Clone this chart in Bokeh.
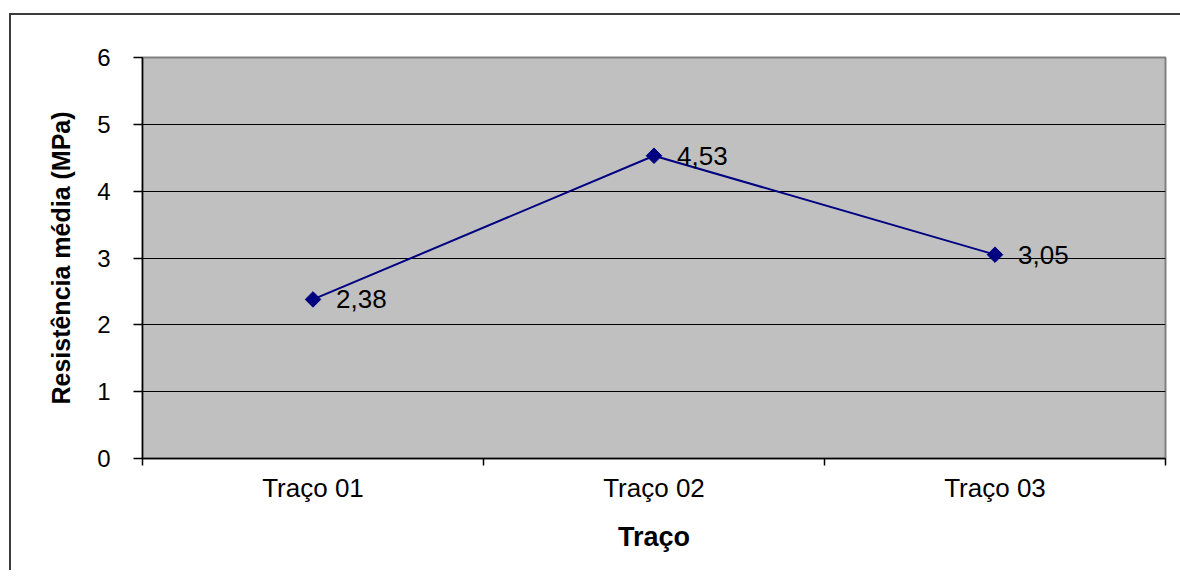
from bokeh.plotting import figure
from bokeh.models import Range1d, FixedTicker, ColumnDataSource
from bokeh.core.properties import value
from bokeh.embed import file_html
from bokeh.resources import INLINE

categories = ["Traço 01", "Traço 02", "Traço 03"]
values = [2.38, 4.53, 3.05]
value_labels = ["2,38", "4,53", "3,05"]
y_ticks = [0, 1, 2, 3, 4, 5, 6]
x_title = "Traço"
y_title = "Resistência média (MPa)"

FONT = "Liberation Sans"

xs = [i + 0.5 for i in range(len(categories))]
src = ColumnDataSource(dict(x=xs, y=values, label=value_labels))

p = figure(width=1171, height=557, output_backend="svg", toolbar_location=None,
           x_range=Range1d(0, len(categories)), y_range=Range1d(min(y_ticks), max(y_ticks)),
           min_border_left=133, min_border_top=44, min_border_right=15, min_border_bottom=112,
           background_fill_color="#C0C0C0", border_fill_color=None,
           outline_line_color="#808080", outline_line_width=2)
p.margin = (13, 0, 0, 9)
p.styles = {"box-shadow": "inset 2px 2px 0 0 #3c3c3c"}

p.line("x", "y", source=src, line_color="#000080", line_width=2)
p.scatter("x", "y", source=src, marker="square", angle=0.785398, size=11,
          fill_color="#000080", line_color="#000080")
p.text("x", "y", text="label", source=src, x_offset=23, text_baseline="middle",
       text_align="left", text_font=value(FONT), text_font_size="26px", text_color="black")

p.xgrid.visible = False
p.ygrid.ticker = FixedTicker(ticks=y_ticks[1:-1])
p.ygrid.grid_line_color = "black"
p.ygrid.grid_line_width = 1

ya = p.yaxis[0]
ya.ticker = FixedTicker(ticks=y_ticks)
ya.major_tick_out = 9
ya.major_tick_in = 0
ya.minor_tick_line_color = None
ya.axis_line_color = "black"
ya.axis_line_width = 1.5
ya.major_tick_line_color = "black"
ya.major_tick_line_width = 1.5
ya.major_label_standoff = 23
ya.major_label_text_font = FONT
ya.major_label_text_font_size = "24px"
ya.major_label_text_color = "black"
ya.axis_label = y_title
ya.axis_label_text_font = FONT
ya.axis_label_text_font_size = "25px"
ya.axis_label_text_font_style = "bold"
ya.axis_label_text_color = "black"
ya.axis_label_standoff = 19

xa = p.xaxis[0]
xa.ticker = FixedTicker(ticks=xs, minor_ticks=list(range(len(categories) + 1)))
xa.major_label_overrides = {x: c for x, c in zip(xs, categories)}
xa.major_tick_line_color = None
xa.major_tick_out = 0
xa.major_tick_in = 0
xa.minor_tick_out = 7
xa.minor_tick_in = 0
xa.minor_tick_line_color = "black"
xa.minor_tick_line_width = 1.5
xa.axis_line_color = "black"
xa.axis_line_width = 1.5
xa.major_label_standoff = 7
xa.major_label_text_font = FONT
xa.major_label_text_font_size = "26px"
xa.major_label_text_color = "black"
xa.axis_label = x_title
xa.axis_label_text_font = FONT
xa.axis_label_text_font_size = "27px"
xa.axis_label_text_font_style = "bold"
xa.axis_label_text_color = "black"
xa.axis_label_standoff = 16

open("out.html", "w").write(file_html(p, INLINE))
